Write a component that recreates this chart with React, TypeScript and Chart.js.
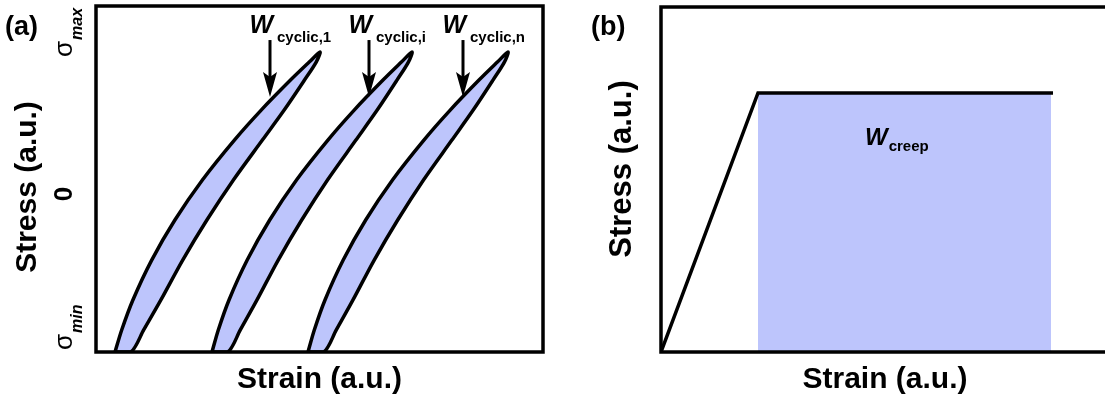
import React, { useEffect, useRef } from "react";
import { Chart, registerables } from "chart.js";
Chart.register(...registerables);

const FONT = "'Liberation Sans', Arial, Helvetica, sans-serif";
const BLUE = "rgb(189,197,252)";

// ---------- Panel (a): hysteresis loops (strain a.u.; stress: -1 = σmin, 0, 1 = σmax) ----------
const loopStress = [-1, -0.853, -0.653, -0.387, -0.12, 0.147, 0.413, 0.613, 0.813, 0.933, 1.0, 0.933, 0.813, 0.613, 0.413, 0.147, -0.12, -0.387, -0.653, -0.853, -1, -1];

const loop1Strain = [19, 25.7, 36.9, 55.7, 78.9, 106.4, 138.4, 165.2, 194.5, 213.2, 224, 220.2, 208.5, 188.2, 166.4, 137.4, 110.9, 86.7, 64.9, 47.7, 35, 19];
const loop2Strain = [116, 122.3, 133.0, 151.2, 173.7, 200.5, 231.9, 258.2, 287.0, 305.4, 316, 312.4, 301.0, 281.2, 259.9, 231.5, 205.7, 182.2, 161.0, 144.3, 132, 116];
const loop3Strain = [212, 218.3, 229.0, 247.2, 269.7, 296.5, 327.9, 354.2, 383.0, 401.4, 412, 408.4, 397.0, 377.2, 355.9, 327.5, 301.7, 278.2, 257.0, 240.3, 228, 212];

const loopSubscripts = ["cyclic,1", "cyclic,i", "cyclic,n"];
const arrowStrain = [174, 273, 367];
const arrowTopStress = 1.08;
const arrowTipStress = 0.7;

const stressTickValues = [1, 0, -1];
const stressTickMain = ["σ", "0", "σ"];
const stressTickSub = ["max", "", "min"];

// ---------- Panel (b): creep ----------
const creepStrain = [0, 97, 392];
const creepStress = [0, 1, 1];
const creepAreaStrain = [97, 390];
const creepAreaStress = [1, 1];
const creepLabelStrain = 204;
const creepLabelStress = 0.8;

const toPts = (xs: number[], ys: number[]) => xs.map((x, i) => ({ x, y: ys[i] }));

function drawBox(ctx: CanvasRenderingContext2D, ca: any) {
  ctx.save();
  ctx.lineWidth = 3.5;
  ctx.strokeStyle = "#000";
  ctx.lineJoin = "miter";
  ctx.strokeRect(ca.left, ca.top, ca.right - ca.left, ca.bottom - ca.top);
  ctx.restore();
}

const panelAPlugin = {
  id: "panelA",
  afterDatasetsDraw(chart: any) {
    const { ctx, chartArea: ca, scales } = chart;
    const x = scales.x;
    const y = scales.y;
    drawBox(ctx, ca);
    ctx.save();
    ctx.fillStyle = "#000";
    ctx.strokeStyle = "#000";
    arrowStrain.forEach((s, i) => {
      const px = x.getPixelForValue(s);
      const top = y.getPixelForValue(arrowTopStress);
      const tip = y.getPixelForValue(arrowTipStress);
      ctx.lineWidth = 3;
      ctx.beginPath();
      ctx.moveTo(px, top);
      ctx.lineTo(px, tip - 16);
      ctx.stroke();
      ctx.beginPath();
      ctx.moveTo(px, tip);
      ctx.lineTo(px - 7, tip - 25);
      ctx.lineTo(px, tip - 20);
      ctx.lineTo(px + 7, tip - 25);
      ctx.closePath();
      ctx.fill();
      ctx.textBaseline = "alphabetic";
      ctx.font = `italic bold 25px ${FONT}`;
      ctx.textAlign = "right";
      ctx.fillText("W", px + 3, top - 7);
      ctx.font = `bold 15px ${FONT}`;
      ctx.textAlign = "left";
      ctx.fillText(loopSubscripts[i], px + 7, top + 2);
    });
    ctx.restore();
  },
  afterDraw(chart: any) {
    const { ctx, chartArea: ca, scales } = chart;
    const y = scales.y;
    ctx.save();
    ctx.fillStyle = "#000";
    ctx.font = `bold 27px ${FONT}`;
    ctx.textAlign = "left";
    ctx.textBaseline = "alphabetic";
    ctx.fillText("(a)", 5, 35);
    ctx.font = `bold 30px ${FONT}`;
    ctx.textAlign = "center";
    ctx.fillText("Strain (a.u.)", (ca.left + ca.right) / 2, 388);
    ctx.save();
    ctx.translate(36, 187);
    ctx.rotate(-Math.PI / 2);
    ctx.fillText("Stress (a.u.)", 0, 0);
    ctx.restore();
    stressTickValues.forEach((v, i) => {
      const py = y.getPixelForValue(v);
      ctx.save();
      if (stressTickSub[i]) {
        const start = i === 0 ? py + 5 : py - 2;
        ctx.translate(72, start);
        ctx.rotate(-Math.PI / 2);
        ctx.textAlign = "left";
        ctx.font = `26px ${FONT}`;
        ctx.fillText(stressTickMain[i], 0, 0);
        const w = ctx.measureText(stressTickMain[i]).width;
        ctx.font = `italic bold 16px ${FONT}`;
        ctx.fillText(stressTickSub[i], w + 1, 10);
      } else {
        ctx.translate(72, py - 8);
        ctx.rotate(-Math.PI / 2);
        ctx.textAlign = "center";
        ctx.font = `bold 26px ${FONT}`;
        ctx.fillText(stressTickMain[i], 0, 0);
      }
      ctx.restore();
    });
    ctx.restore();
  },
};

const panelBPlugin = {
  id: "panelB",
  afterDatasetsDraw(chart: any) {
    drawBox(chart.ctx, chart.chartArea);
  },
  afterDraw(chart: any) {
    const { ctx, chartArea: ca, scales } = chart;
    const x = scales.x;
    const y = scales.y;
    ctx.save();
    ctx.fillStyle = "#000";
    ctx.textBaseline = "alphabetic";
    ctx.font = `bold 27px ${FONT}`;
    ctx.textAlign = "left";
    ctx.fillText("(b)", 31, 35);
    ctx.font = `bold 30px ${FONT}`;
    ctx.textAlign = "center";
    ctx.fillText("Strain (a.u.)", (ca.left + ca.right) / 2, 388);
    ctx.save();
    ctx.font = `bold 31px ${FONT}`;
    ctx.translate(71, 169);
    ctx.rotate(-Math.PI / 2);
    ctx.fillText("Stress (a.u.)", 0, 0);
    ctx.restore();
    const lx = x.getPixelForValue(creepLabelStrain);
    const ly = y.getPixelForValue(creepLabelStress);
    ctx.textAlign = "left";
    ctx.font = `italic bold 24px ${FONT}`;
    ctx.fillText("W", lx, ly);
    const w = ctx.measureText("W").width;
    ctx.font = `bold 15px ${FONT}`;
    ctx.fillText("creep", lx + w + 1, ly + 6);
    ctx.restore();
  },
};

export default function App() {
  const refA = useRef<HTMLCanvasElement>(null);
  const refB = useRef<HTMLCanvasElement>(null);

  useEffect(() => {
    const loopDs = (xs: number[], ys: number[]) => ({
      data: toPts(xs, ys),
      borderColor: "#000",
      borderWidth: 3.5,
      backgroundColor: BLUE,
      fill: "shape",
      tension: 0.3,
      pointRadius: 0,
      borderJoinStyle: "round",
      borderCapStyle: "round",
    });
    const chartA = new Chart(refA.current!, {
      type: "line",
      data: {
        datasets: [
          loopDs(loop1Strain, loopStress),
          loopDs(loop2Strain, loopStress),
          loopDs(loop3Strain, loopStress),
        ] as any,
      },
      options: {
        animation: false,
        responsive: false,
        devicePixelRatio: 1,
        layout: { padding: { left: 96, top: 6, right: 17, bottom: 51 } },
        plugins: { legend: { display: false }, tooltip: { enabled: false } },
        scales: {
          x: { type: "linear", min: 0, max: 447, display: false },
          y: { type: "linear", min: -1, max: 1.307, display: false },
        },
      },
      plugins: [panelAPlugin],
    } as any);

    const chartB = new Chart(refB.current!, {
      type: "line",
      data: {
        datasets: [
          {
            data: toPts(creepAreaStrain, creepAreaStress),
            borderWidth: 0,
            borderColor: "rgba(0,0,0,0)",
            backgroundColor: BLUE,
            fill: "origin",
            pointRadius: 0,
            order: 2,
          },
          {
            data: toPts(creepStrain, creepStress),
            borderColor: "#000",
            borderWidth: 3.5,
            fill: false,
            pointRadius: 0,
            tension: 0,
            borderJoinStyle: "miter",
            order: 1,
          },
        ] as any,
      },
      options: {
        animation: false,
        responsive: false,
        devicePixelRatio: 1,
        layout: { padding: { left: 101, top: 7, right: 11, bottom: 51 } },
        plugins: { legend: { display: false }, tooltip: { enabled: false } },
        scales: {
          x: { type: "linear", min: 0, max: 448, display: false },
          y: { type: "linear", min: 0, max: 1.332, display: false },
        },
      },
      plugins: [panelBPlugin],
    } as any);

    return () => {
      chartA.destroy();
      chartB.destroy();
    };
  }, []);

  return (
    <div
      style={{
        position: "fixed",
        left: 0,
        top: 0,
        width: 1105,
        height: 403,
        overflow: "hidden",
        background: "#fff",
      }}
    >
      <canvas ref={refA} width={560} height={403} style={{ position: "absolute", left: 0, top: 0 }} />
      <canvas ref={refB} width={560} height={403} style={{ position: "absolute", left: 560, top: 0 }} />
    </div>
  );
}
